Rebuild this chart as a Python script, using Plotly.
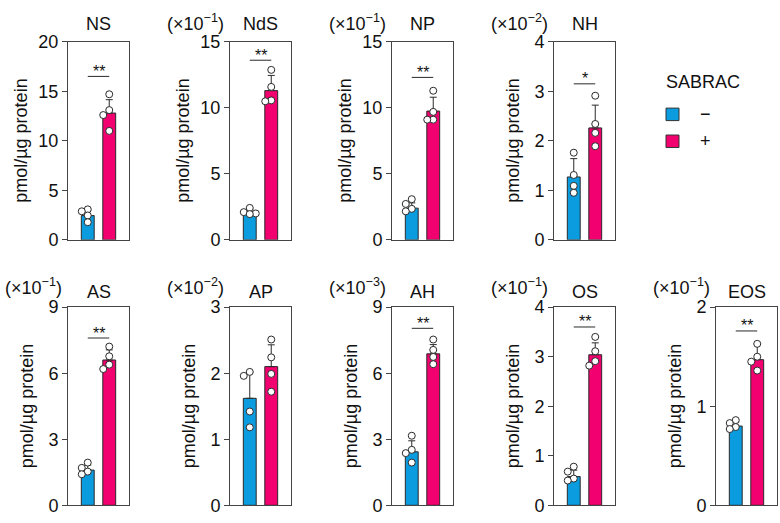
import plotly.graph_objects as go

W, H = 780, 523
BLUE = "#0A9CDE"
PINK = "#F2006F"
DARK = "#2a2a2a"
FONT = "Liberation Sans, Arial, sans-serif"
FS = 18

# ---------------- data ----------------
panels = ["NS", "NdS", "NP", "NH", "AS", "AP", "AH", "OS", "EOS"]
exponents = [None, -1, -1, -2, -1, -2, -3, -1, -1]
ymax = [20, 15, 15, 4, 9, 3, 9, 4, 2]
yticks = [[0, 5, 10, 15, 20], [0, 5, 10, 15], [0, 5, 10, 15], [0, 1, 2, 3, 4],
          [0, 3, 6, 9], [0, 1, 2, 3], [0, 3, 6, 9], [0, 1, 2, 3, 4], [0, 1, 2]]
groups = ["−", "+"]

mean_minus = [2.45, 2.10, 2.40, 1.27, 1.60, 1.62, 2.43, 0.58, 0.80]
mean_plus = [12.80, 11.30, 9.75, 2.26, 6.60, 2.10, 6.88, 3.04, 1.47]
sd_minus = [0.55, 0.20, 0.40, 0.37, 0.23, 0.40, 0.50, 0.13, 0.04]
sd_plus = [1.35, 1.15, 1.05, 0.46, 0.46, 0.33, 0.42, 0.24, 0.16]

pts_minus = [[3.08, 2.88, 2.46, 1.78], [2.42, 2.10, 2.00, 1.95], [3.08, 2.72, 2.35, 2.16],
             [1.76, 1.31, 1.09, 0.95], [1.94, 1.70, 1.53, 1.41], [2.02, 1.96, 1.42, 1.18],
             [3.16, 2.52, 2.37, 1.94], [0.78, 0.68, 0.54, 0.50], [0.86, 0.83, 0.79, 0.77]]
pts_plus = [[14.70, 13.10, 12.60, 11.00], [12.87, 11.58, 10.56, 10.49], [11.29, 9.69, 9.10, 9.10],
            [2.91, 2.34, 2.16, 1.89], [7.21, 6.77, 6.39, 6.19], [2.51, 2.24, 1.99, 1.72],
            [7.53, 7.06, 6.74, 6.41], [3.40, 3.11, 2.91, 2.82], [1.63, 1.50, 1.45, 1.36]]

sig_label = ["**", "**", "**", "*", "**", None, "**", "**", "**"]
sig_level = [16.5, 13.6, 12.3, 3.15, 7.6, None, 8.04, 3.6, 1.76]

ytitle = "pmol/µg protein"
legend_title = "SABRAC"

# ---------------- layout geometry (pixels) ----------------
pos = [(0, 0), (1, 0), (2, 0), (3, 0), (0, 1), (1, 1), (2, 1), (3, 1), (4, 1)]
BOX_W = 61
ROW_Y = [(33, 239), (309, 515)]
XR = [-0.92, 1.92]
PX_PER_UNIT = BOX_W / (XR[1] - XR[0])


def px(x):
    return x / W


def py(y):
    return 1 - y / H


def swarm(vals, top, d=6.0):
    scale = (ROW_Y[0][1] - ROW_Y[0][0]) / top
    placed, offs = [], []
    for v in vals:
        yp = v * scale
        chosen = 0
        for cand in [0, -d, d, -2 * d, 2 * d]:
            if all((cand - ox) ** 2 + (yp - oy) ** 2 >= d * d for ox, oy in placed):
                chosen = cand
                break
        placed.append((chosen, yp))
        offs.append(chosen / PX_PER_UNIT)
    return offs


fig = go.Figure()
annotations = []
shapes = []
layout = {}
tfont = dict(family=FONT, size=FS, color="#111")

for i, name in enumerate(panels):
    col, row = pos[i]
    x0 = 68 + 162 * col
    x1 = x0 + BOX_W
    ytop, ybot = ROW_Y[row]
    k = "" if i == 0 else str(i + 1)
    xa, ya = "x" + k, "y" + k

    fig.add_trace(go.Bar(
        x=[0, 1], y=[mean_minus[i], mean_plus[i]], xaxis=xa, yaxis=ya,
        width=0.6, marker=dict(color=[BLUE, PINK], line=dict(color=DARK, width=1)),
        error_y=dict(type="data", array=[sd_minus[i], sd_plus[i]], arrayminus=[0, 0],
                     symmetric=False, color=DARK, thickness=1, width=3.5),
        showlegend=False, hoverinfo="skip"))
    for gx, pts in ((0, pts_minus[i]), (1, pts_plus[i])):
        offs = swarm(pts, ymax[i])
        fig.add_trace(go.Scatter(
            x=[gx + o for o in offs], y=pts, xaxis=xa, yaxis=ya, mode="markers",
            marker=dict(size=7, color="white", line=dict(color=DARK, width=1)),
            showlegend=False, hoverinfo="skip", cliponaxis=False))

    layout["xaxis" + k] = dict(domain=[px(x0), px(x1)], anchor=ya, range=XR,
                               showticklabels=False, ticks="", showgrid=False, zeroline=False,
                               showline=True, mirror=True, linecolor="#444", linewidth=1,
                               fixedrange=True)
    layout["yaxis" + k] = dict(domain=[py(ybot), py(ytop)], anchor=xa, range=[0, ymax[i]],
                               tickvals=yticks[i], ticks="outside", ticklen=5, tickcolor="#444",
                               showgrid=False, zeroline=False, showline=True, mirror=True,
                               linecolor="#444", linewidth=1, tickfont=tfont)

    # panel title
    title_y = 15 if row == 0 else 293
    annotations.append(dict(text=name, x=px((x0 + x1) / 2), y=py(title_y), xref="paper",
                            yref="paper", xanchor="center", yanchor="middle", showarrow=False,
                            font=tfont))
    # multiplier
    if exponents[i] is not None:
        my = 13 if row == 0 else 288
        annotations.append(dict(text="(×10<sup>−%d</sup>)" % (-exponents[i]), x=px(x0 - 5),
                                y=py(my), xref="paper", yref="paper", xanchor="right",
                                yanchor="middle", showarrow=False, borderpad=0, font=tfont))
    # y title
    two_digit = max(yticks[i]) >= 10
    tx = x0 - (47 if two_digit else 41)
    annotations.append(dict(text=ytitle, x=px(tx), y=py((ytop + ybot) / 2), xref="paper",
                            yref="paper", xanchor="center", yanchor="middle", textangle=-90,
                            showarrow=False, font=tfont))
    # significance
    if sig_label[i]:
        shapes.append(dict(type="line", xref=xa, yref=ya, x0=0, x1=1, y0=sig_level[i],
                           y1=sig_level[i], line=dict(color=DARK, width=1)))
        annotations.append(dict(text=sig_label[i], x=0.5, y=sig_level[i], xref=xa, yref=ya,
                                xanchor="center", yanchor="middle", yshift=5, showarrow=False,
                                font=dict(family=FONT, size=16, color="#111")))

# legend (drawn)
annotations.append(dict(text=legend_title, x=px(664), y=py(75), xref="paper", yref="paper",
                        xanchor="left", yanchor="middle", showarrow=False, font=tfont))
for j, (g, c) in enumerate(zip(groups, [BLUE, PINK])):
    cy = 108.5 + 28 * j
    shapes.append(dict(type="rect", xref="paper", yref="paper", x0=px(666), x1=px(679),
                       y0=py(cy + 6.5), y1=py(cy - 6.5), fillcolor=c,
                       line=dict(color="#333", width=1)))
    annotations.append(dict(text=g, x=px(705.5), y=py(cy), xref="paper", yref="paper",
                            xanchor="center", yanchor="middle", showarrow=False, font=tfont))

fig.update_layout(width=W, height=H, autosize=False, margin=dict(l=0, r=0, t=0, b=0),
                  plot_bgcolor="white", paper_bgcolor="white", barmode="overlay",
                  annotations=annotations, shapes=shapes, showlegend=False,
                  font=dict(family=FONT), **layout)

fig.write_html("out.html")
